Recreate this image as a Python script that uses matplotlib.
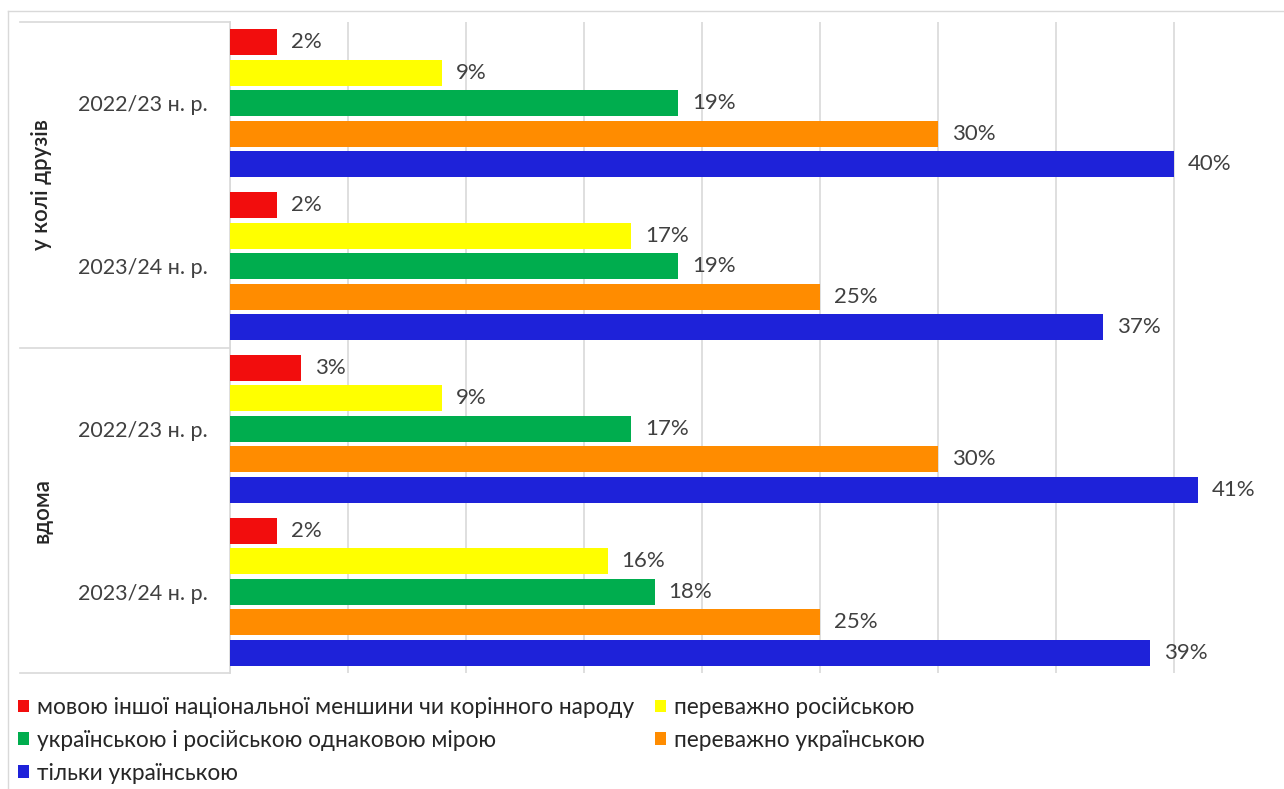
import matplotlib
matplotlib.use("Agg")
import matplotlib.pyplot as plt
from matplotlib.patches import Patch
from matplotlib.lines import Line2D
import matplotlib.transforms as mtransforms

plt.rcParams['font.family'] = ['Lato', 'DejaVu Sans']

# Data
groups = ["у колі друзів", "вдома"]
years = ["2022/23 н. р.", "2023/24 н. р."]
series_names = [
    "мовою іншої національної меншини чи корінного народу",
    "переважно російською",
    "українською і російською однаковою мірою",
    "переважно українською",
    "тільки українською",
]
colors = ["#F20D0D", "#FFFF00", "#00AD4E", "#FF8C00", "#1E22D9"]
# rows: friends 22/23, friends 23/24, home 22/23, home 23/24
red_vals = [2, 2, 3, 2]
yellow_vals = [9, 17, 9, 16]
green_vals = [19, 19, 17, 18]
orange_vals = [30, 25, 30, 25]
blue_vals = [40, 37, 41, 39]
series_vals = [red_vals, yellow_vals, green_vals, orange_vals, blue_vals]

W, H = 1284, 789
fig = plt.figure(figsize=(W / 100, H / 100), dpi=100)
ax_left, ax_right, ax_top, ax_bot = 230, 1284, 22, 673
ax = fig.add_axes([ax_left / W, 1 - ax_bot / H, (ax_right - ax_left) / W, (ax_bot - ax_top) / H])

n_cat = 4
step = 0.1874
bh = 0.16
txt_col = "#404040"
fs_val = 16
fs_cat = 15.5
fs_leg = 16.3
for k, (vals, c) in enumerate(zip(series_vals, colors)):
    ys = [i + (k - 2) * step for i in range(n_cat)]
    ax.barh(ys, vals, height=bh, color=c, zorder=3)
    for y, v in zip(ys, vals):
        ax.annotate(f"{v}%", (v, y), xytext=(10, 0), textcoords="offset points",
                    va="center", ha="left", fontsize=fs_val, color=txt_col)

px_per_unit = 23.6
ax.set_xlim(0, (ax_right - ax_left) / px_per_unit)
ax.set_ylim(3.5, -0.5)
ax.set_xticks(range(0, 45, 5))
ax.xaxis.grid(True, color="#D9D9D9", lw=1.2, zorder=0)
ax.tick_params(axis="x", length=0, labelbottom=False)
ax.set_yticks(range(n_cat))
ax.set_yticklabels(years * 2, fontsize=fs_cat, color=txt_col)
ax.tick_params(axis="y", length=0, pad=16)
for s in ["top", "right", "bottom"]:
    ax.spines[s].set_visible(False)
ax.spines["left"].set_color("#D9D9D9")
ax.spines["left"].set_linewidth(1.2)

# multi-level separators & outer labels
trans = mtransforms.blended_transform_factory(ax.transAxes, ax.transData)
x0 = (20 - ax_left) / (ax_right - ax_left)
for yb in [-0.5, 1.5, 3.5]:
    ax.add_line(Line2D([x0, 0], [yb, yb], transform=trans, color="#D9D9D9", lw=1.2, clip_on=False))
xo = (42 - ax_left) / (ax_right - ax_left)
for gi, g in enumerate(groups):
    ax.text(xo, gi * 2 + 0.5, g, transform=trans, rotation=90, ha="center", va="center",
            fontsize=fs_cat + 0.5, color="#262626", fontweight="semibold")

# outer frame
fig.add_artist(Line2D([8 / W, 1], [1 - 11 / H, 1 - 11 / H], transform=fig.transFigure, color="#D9D9D9", lw=1))
fig.add_artist(Line2D([8 / W, 8 / W], [1 - 11 / H, 0], transform=fig.transFigure, color="#D9D9D9", lw=1))

# legend
handles = [Patch(facecolor=c, edgecolor="none") for c in colors]
order = [0, 2, 4, 1, 3]
fig.legend([handles[i] for i in order], [series_names[i] for i in order],
           loc="upper left", bbox_to_anchor=(18 / W, 1 - 697 / H), ncol=2, frameon=False,
           fontsize=fs_leg, handlelength=0.5, handleheight=0.5, handletextpad=0.35,
           columnspacing=0.9, labelspacing=0.52, labelcolor="#262626", borderaxespad=0, borderpad=0)

fig.savefig("out.png", dpi=100)
